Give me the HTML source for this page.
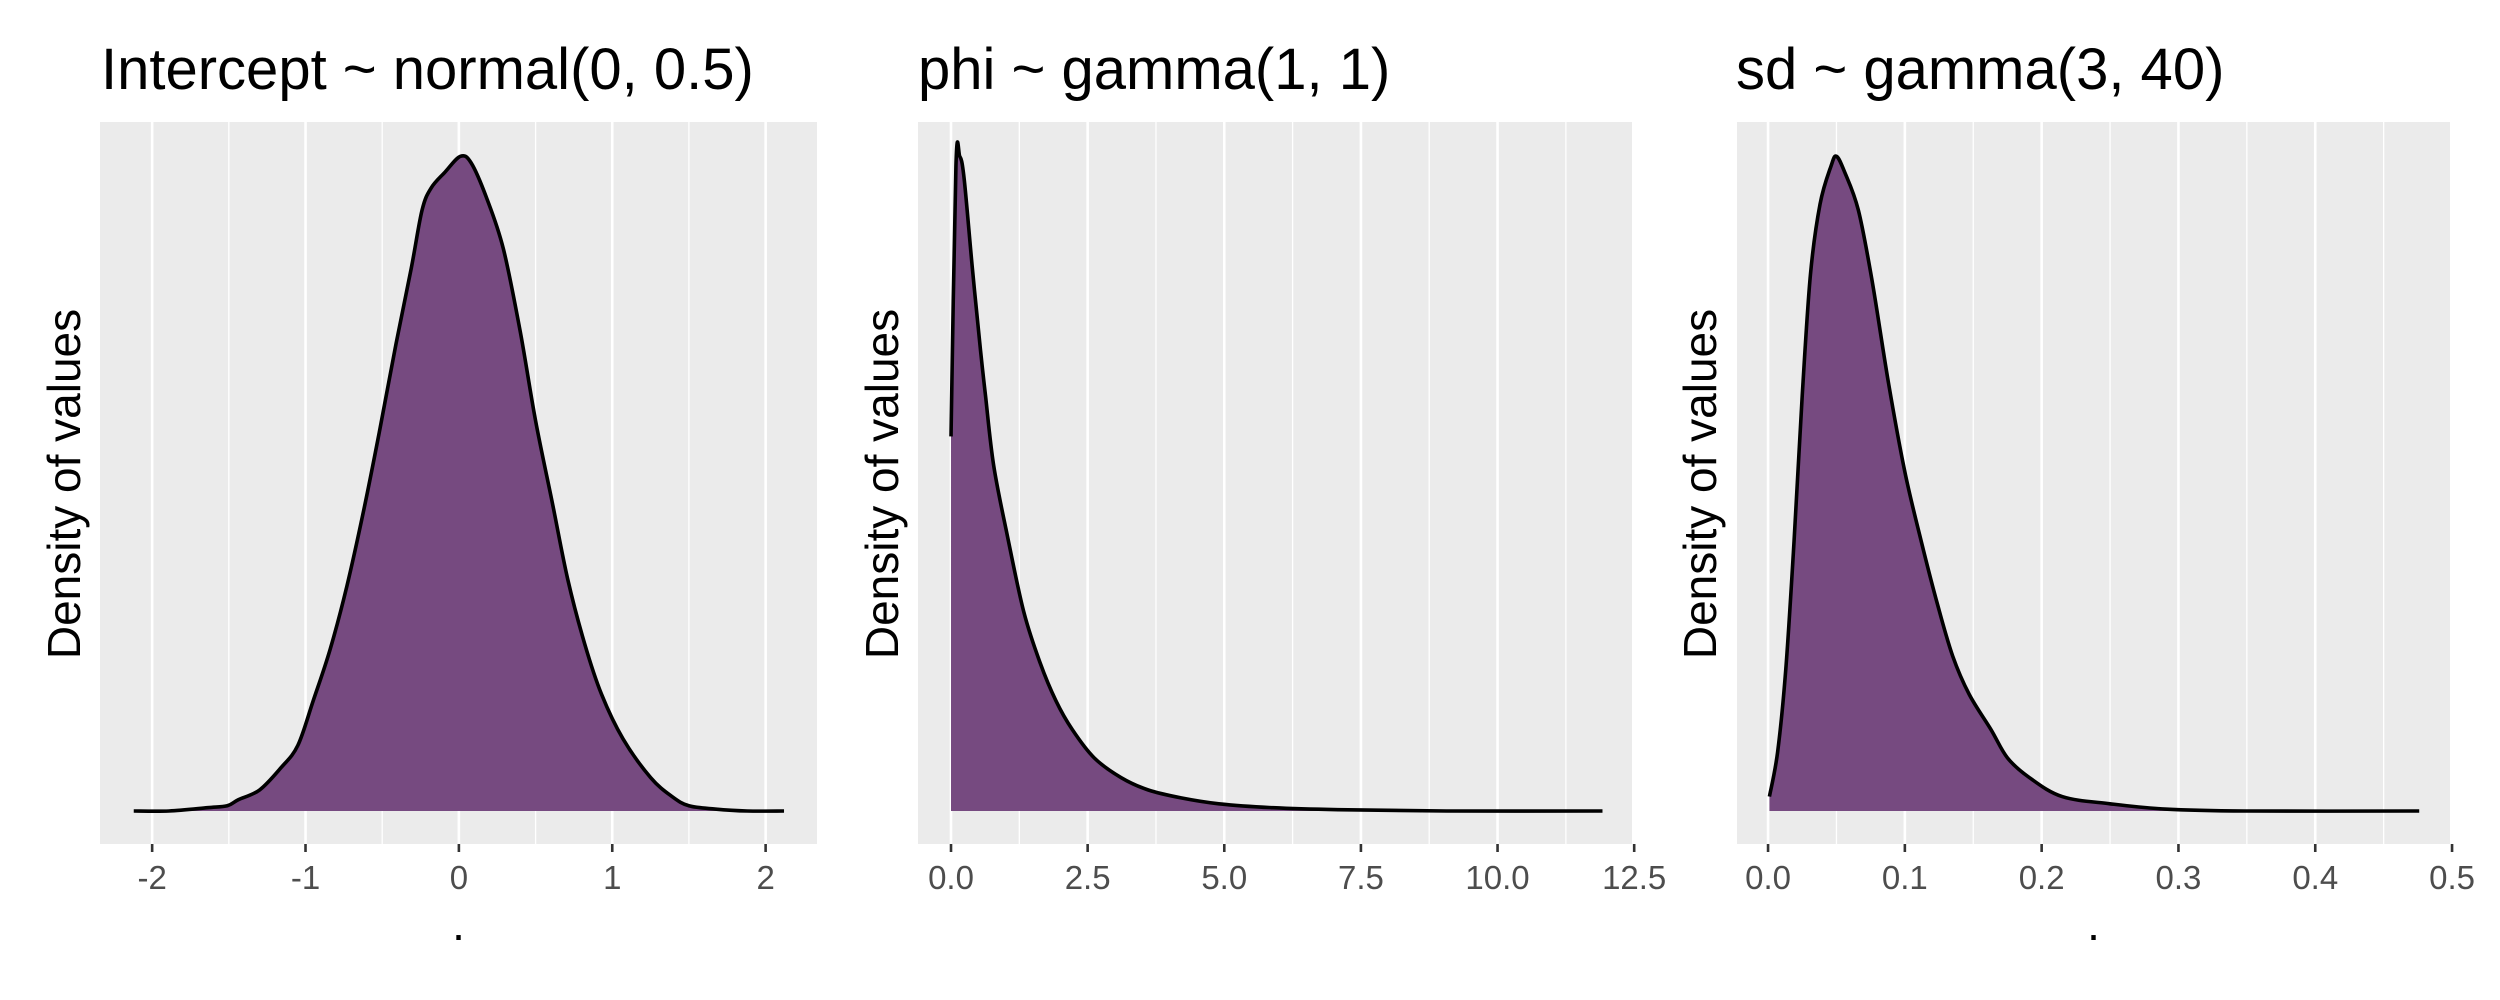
<!DOCTYPE html>
<html><head><meta charset="utf-8"><style>
html,body{margin:0;padding:0;background:#fff;}
svg{display:block;font-family:"Liberation Sans",Arial,sans-serif;}
</style></head><body>
<svg id="chart" width="2500" height="1000" viewBox="0 0 2500 1000" xmlns="http://www.w3.org/2000/svg"></svg>
<script>
// Panel 1: Intercept ~ normal(0, 0.5)
const p1X = [-2.12,-1.89,-1.64,-1.51,-1.44,-1.30,-1.16,-1.05,-0.95,-0.84,-0.73,-0.62,-0.52,-0.41,-0.31,-0.24,-0.18,-0.09,0.01,0.08,0.18,0.29,0.40,0.50,0.61,0.71,0.82,0.93,1.07,1.25,1.39,1.50,1.67,1.88,2.12];
const p1Y = [0,0,0.005,0.008,0.017,0.032,0.066,0.10,0.168,0.246,0.343,0.459,0.576,0.712,0.828,0.916,0.95,0.974,0.998,0.988,0.935,0.857,0.731,0.595,0.469,0.353,0.255,0.178,0.11,0.051,0.022,0.008,0.003,0,0];
const p1Ticks = [-2,-1,0,1,2];
const p1TickLabels = ["-2","-1","0","1","2"];
// Panel 2: phi ~ gamma(1, 1)
const p2X = [0,0.09,0.16,0.24,0.39,0.54,0.63,0.78,1.03,1.33,1.63,1.92,2.22,2.62,3.11,3.61,4.21,4.90,5.89,7.08,9.07,11.92];
const p2Y = [0.571,0.983,0.998,0.964,0.828,0.702,0.634,0.527,0.42,0.304,0.226,0.168,0.124,0.081,0.051,0.032,0.02,0.011,0.005,0.002,0,0];
const p2Ticks = [0,2.5,5,7.5,10,12.5];
const p2TickLabels = ["0.0","2.5","5.0","7.5","10.0","12.5"];
// Panel 3: sd ~ gamma(3, 40)
const p3X = [0.001,0.007,0.013,0.019,0.025,0.031,0.038,0.046,0.050,0.056,0.066,0.076,0.088,0.100,0.112,0.124,0.135,0.147,0.163,0.175,0.191,0.215,0.250,0.290,0.349,0.476];
const p3Y = [0.022,0.09,0.217,0.411,0.634,0.818,0.925,0.983,0.998,0.974,0.916,0.809,0.653,0.517,0.411,0.314,0.236,0.178,0.124,0.081,0.051,0.022,0.011,0.003,0,0];
const p3Ticks = [0,0.1,0.2,0.3,0.4,0.5];
const p3TickLabels = ["0.0","0.1","0.2","0.3","0.4","0.5"];

const titles = ["Intercept ~ normal(0, 0.5)","phi ~ gamma(1, 1)","sd ~ gamma(3, 40)"];
const NS = "http://www.w3.org/2000/svg";
const svg = document.getElementById("chart");
function mk(tag, attrs, parent){
  const e = document.createElementNS(NS, tag);
  for (const k in attrs) e.setAttribute(k, attrs[k]);
  (parent||svg).appendChild(e);
  return e;
}
// Catmull-Rom smoothing through screen points
function smooth(pts){
  let s = "M"+pts[0][0]+","+pts[0][1];
  for (let i=0;i<pts.length-1;i++){
    const p0=pts[Math.max(i-1,0)], p1=pts[i], p2=pts[i+1], p3=pts[Math.min(i+2,pts.length-1)];
    const c1x=p1[0]+(p2[0]-p0[0])/6, c1y=p1[1]+(p2[1]-p0[1])/6;
    const c2x=p2[0]-(p3[0]-p1[0])/6, c2y=p2[1]-(p3[1]-p1[1])/6;
    s += " C"+c1x+","+c1y+" "+c2x+","+c2y+" "+p2[0]+","+p2[1];
  }
  return s;
}
const panels = [
  {x0:100,x1:817,d0:-2.34,d1:2.335,xs:p1X,ys:p1Y,ticks:p1Ticks,labels:p1TickLabels,minorStep:1,titleX:101,yTitleX:64,dot:true},
  {x0:918,x1:1632,d0:-0.604,d1:12.46,xs:p2X,ys:p2Y,ticks:p2Ticks,labels:p2TickLabels,minorStep:2.5,titleX:918,yTitleX:882,dot:false},
  {x0:1737,x1:2450,d0:-0.0227,d1:0.4985,xs:p3X,ys:p3Y,ticks:p3Ticks,labels:p3TickLabels,minorStep:0.1,titleX:1736,yTitleX:1700,dot:true}
];
const yTop=122, yBot=844, yBase=811, yPeak=155;
function yScale(v){ return yBase - v*(yBase-yPeak); }
panels.forEach((p,i)=>{
  const g = mk("g",{});
  
  
  const xs = v => p.x0 + (v-p.d0)/(p.d1-p.d0)*(p.x1-p.x0);
  const bg = mk("rect",{x:p.x0,y:yTop,width:p.x1-p.x0,height:yBot-yTop,fill:"#EBEBEB"},g);
  
  
  p.ticks.forEach(t=>{
    const mx = xs(t + p.minorStep/2);
    if (mx>p.x0 && mx<p.x1){
      const l = mk("line",{x1:mx,x2:mx,y1:yTop,y2:yBot,stroke:"#fff","stroke-width":1.3},g);
      
      
    }
    const mmx = xs(t - p.minorStep/2);
    if (t===p.ticks[0] && mmx>p.x0 && mmx<p.x1){
      const l = mk("line",{x1:mmx,x2:mmx,y1:yTop,y2:yBot,stroke:"#fff","stroke-width":1.3},g);
      
      
    }
  });
  p.ticks.forEach((t,j)=>{
    const tx = xs(t);
    if (tx>p.x0 && tx<p.x1){
      const l = mk("line",{x1:tx,x2:tx,y1:yTop,y2:yBot,stroke:"#fff","stroke-width":2.6},g);
      
      
    }
    const tk = mk("line",{x1:tx,x2:tx,y1:yBot,y2:yBot+8,stroke:"#333","stroke-width":2.6},g);
    
    
    const lb = mk("text",{x:tx,y:889,"text-anchor":"middle","font-size":33,fill:"#4D4D4D"},g);
    lb.textContent = p.labels[j];
    
    
  });
  const pts = p.xs.map((v,k)=>[xs(v), yScale(p.ys[k])]);
  const curve = smooth(pts);
  const first = pts[0], last = pts[pts.length-1];
  const d = "M"+first[0]+","+yBase+" L"+first[0]+","+first[1]+" "+curve.slice(curve.indexOf("C"))+" L"+last[0]+","+yBase+" Z";
  const area = mk("path",{d:d,fill:"#764a80"},g);
  
  
  const line = mk("path",{d:curve,fill:"none",stroke:"#000","stroke-width":3.6,"stroke-linejoin":"round"},g);
  
  
  const tt = mk("text",{x:p.titleX,y:89,"font-size":58,fill:"#000"},g);
  tt.textContent = titles[i];
  
  
  const yt = mk("text",{x:0,y:0,"font-size":46,fill:"#000","text-anchor":"middle",transform:"translate("+(p.yTitleX+16)+",484) rotate(-90)"},g);
  yt.textContent = "Density of values";
  
  
  if (p.dot){
    const xt = mk("text",{x:(p.x0+p.x1)/2,y:940,"font-size":46,fill:"#000","text-anchor":"middle"},g);
    xt.textContent = ".";
    
    
  }
});
</script>
</body></html>
